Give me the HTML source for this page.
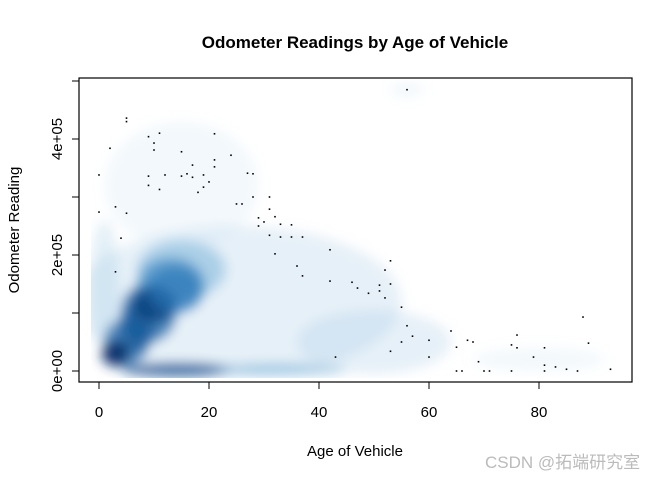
<!DOCTYPE html>
<html><head><meta charset="utf-8"><style>
body{margin:0;background:#fff;}
svg{display:block;font-family:"Liberation Sans",Arial,sans-serif;}
</style></head><body>
<svg width="672" height="480" viewBox="0 0 672 480">
<defs>
<filter id="blur" x="-50%" y="-50%" width="200%" height="200%"><feGaussianBlur stdDeviation="6"/></filter>
<clipPath id="dclip"><rect x="91" y="80" width="538" height="298"/></clipPath>
</defs>
<text x="355" y="48" text-anchor="middle" font-size="17" font-weight="bold">Odometer Readings by Age of Vehicle</text>
<g clip-path="url(#dclip)"><g id="density" filter="url(#blur)"></g></g>
<g id="points"></g>
<rect x="79" y="78" width="553" height="304" fill="none" stroke="#000" stroke-width="1.2"/>
<g id="xaxis"></g>
<g id="yaxis"></g>
<text x="355" y="456" text-anchor="middle" font-size="15">Age of Vehicle</text>
<text transform="translate(19,230) rotate(-90)" text-anchor="middle" font-size="15">Odometer Reading</text>
<text x="485" y="468" font-size="17" fill="#bbb" font-family="'Liberation Sans','Noto Sans CJK SC',sans-serif">CSDN @拓端研究室</text>
</svg>
<script>
const xTicks=[0,20,40,60,80];
const yTicks=[0,100000,200000,300000,400000,500000];
const yTickLabels=["0e+00","","2e+05","","4e+05",""];
// density blobs: age, odometer (thousands), spread, density weight
const blobAge=[25,15,50,80,1,15,5,9,13,3,14,33,56,7,10,14];
const blobOdo=[120,320,50,20,150,175,50,100,150,30,2,2,485,75,115,140];
const blobRxAge=[30,14,14,12,2.5,8,4,5,6,2.5,10,12,3,3,4,5];
const blobRyOdo=[130,110,55,20,110,50,40,50,45,22,11,10,12,40,30,40];
const blobWeight=[0.18,0.08,0.18,0.08,0.2,0.4,0.75,0.75,0.6,1.0,0.85,0.45,0.1,0.8,0.92,0.65];
// outlier points: age, odometer (thousands)
const ptAge=[5,5,0,0,2,3,5,4,3,9,10,11,10,15,9,9,11,12,15,16,17,17,19,19,20,18,21,21,21,24,27,28,26,25,28,29,29,31,31,30,32,33,35,37,31,33,35,32,36,37,42,42,43,46,47,49,51,51,52,53,53,52,55,56,57,55,53,60,60,64,65,67,68,69,65,66,70,71,75,75,76,76,79,81,81,81,83,85,87,88,89,93,56];
const ptOdo=[436,430,338,274,384,283,272,229,171,404,393,410,381,378,336,320,313,338,336,340,355,334,338,317,326,308,409,364,352,372,341,340,288,288,300,250,264,300,279,257,266,253,252,231,234,231,231,202,181,164,209,155,24,153,143,134,148,138,174,190,150,126,110,78,60,50,34,53,24,69,41,53,50,16,0,0,0,0,0,45,62,40,24,40,10,0,7,3,0,93,48,3,485];
const X=a=>99+a*5.5;
const Y=v=>371-v*58/100000;
const NS="http://www.w3.org/2000/svg";
function blues(w){
  const stops=[[247,251,255],[198,219,239],[107,174,214],[33,113,181],[8,48,107]];
  const p=Math.min(0.999,Math.max(0,w))*(stops.length-1);
  const i=Math.floor(p),f=p-i;
  const c=stops[i].map((v,k)=>Math.round(v+(stops[i+1][k]-v)*f));
  return 'rgb('+c.join(',')+')';
}
const dg=document.getElementById('density');
for(let i=0;i<blobAge.length;i++){
  const e=document.createElementNS(NS,'ellipse');
  e.setAttribute('cx',X(blobAge[i]));
  e.setAttribute('cy',Y(blobOdo[i]*1000));
  e.setAttribute('rx',blobRxAge[i]*5.5);
  e.setAttribute('ry',blobRyOdo[i]*0.58);
  e.setAttribute('fill',blues(0.2+blobWeight[i]*0.8));
  e.setAttribute('fill-opacity',Math.min(1,0.12+blobWeight[i]*0.85));
  
  
  dg.appendChild(e);
}
const pg=document.getElementById('points');
for(let i=0;i<ptAge.length;i++){
  const r=document.createElementNS(NS,'rect');
  r.setAttribute('x',X(ptAge[i])-0.8);
  r.setAttribute('y',Y(ptOdo[i]*1000)-0.8);
  r.setAttribute('width',1.6);r.setAttribute('height',1.6);
  r.setAttribute('fill','#000');
  
  
  pg.appendChild(r);
}
const xg=document.getElementById('xaxis');
xTicks.forEach(t=>{
  const l=document.createElementNS(NS,'line');
  l.setAttribute('x1',X(t));l.setAttribute('x2',X(t));l.setAttribute('y1',382);l.setAttribute('y2',389);
  l.setAttribute('stroke','#000');
  
  
  xg.appendChild(l);
  const s=document.createElementNS(NS,'text');
  s.setAttribute('x',X(t));s.setAttribute('y',417);s.setAttribute('text-anchor','middle');s.setAttribute('font-size','15');
  s.textContent=t;
  
  
  xg.appendChild(s);
});
const yg=document.getElementById('yaxis');
yTicks.forEach((t,i)=>{
  const l=document.createElementNS(NS,'line');
  l.setAttribute('x1',72);l.setAttribute('x2',79);l.setAttribute('y1',Y(t));l.setAttribute('y2',Y(t));
  l.setAttribute('stroke','#000');
  
  
  yg.appendChild(l);
  if(yTickLabels[i]){
    const s=document.createElementNS(NS,'text');
    s.setAttribute('transform','translate(62,'+Y(t)+') rotate(-90)');
    s.setAttribute('text-anchor','middle');s.setAttribute('font-size','15');
    s.textContent=yTickLabels[i];
    
    
    yg.appendChild(s);
  }
});
</script>
</body></html>
